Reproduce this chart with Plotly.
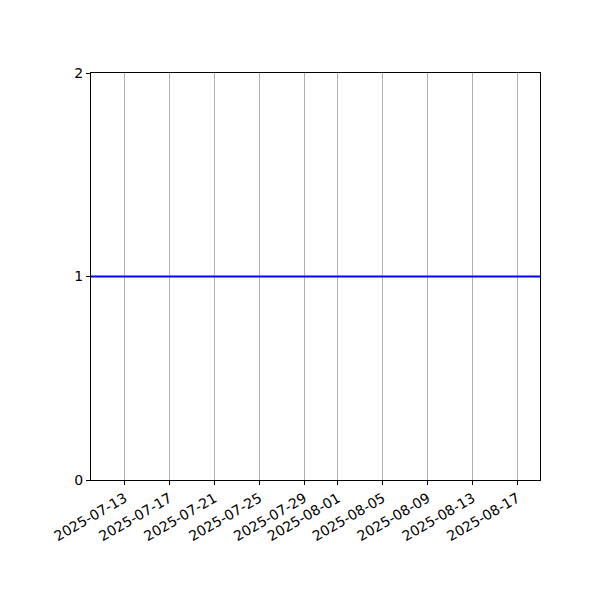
import plotly.graph_objects as go

dates = ["2025-07-10", "2025-08-19"]
values = [1, 1]
tick_dates = ["2025-07-13", "2025-07-17", "2025-07-21", "2025-07-25", "2025-07-29",
              "2025-08-01", "2025-08-05", "2025-08-09", "2025-08-13", "2025-08-17"]
y_ticks = [0, 1, 2]

fig = go.Figure()
fig.add_trace(go.Scatter(x=dates, y=values, mode="lines",
                         line=dict(color="#0000ff", width=2), showlegend=False))

fig.update_layout(
    width=600, height=600,
    margin=dict(l=83, r=68, t=65, b=128),
    paper_bgcolor="white", plot_bgcolor="white",
    font=dict(family="DejaVu Sans", size=14, color="black"),
)
fig.update_xaxes(
    range=[dates[0], dates[-1]],
    tickvals=tick_dates, ticktext=tick_dates,
    tickangle=-30,
    showgrid=True, gridcolor="#b0b0b0", gridwidth=1,
    showline=True, linecolor="black", linewidth=1, mirror=True,
    ticks="outside", ticklen=4, tickcolor="black", zeroline=False,
)
fig.update_yaxes(
    range=[0, 2], tickvals=y_ticks,
    showgrid=False,
    showline=True, linecolor="black", linewidth=1, mirror=True,
    ticks="outside", ticklen=4, tickcolor="black", zeroline=False,
)

fig.write_html("out.html")
